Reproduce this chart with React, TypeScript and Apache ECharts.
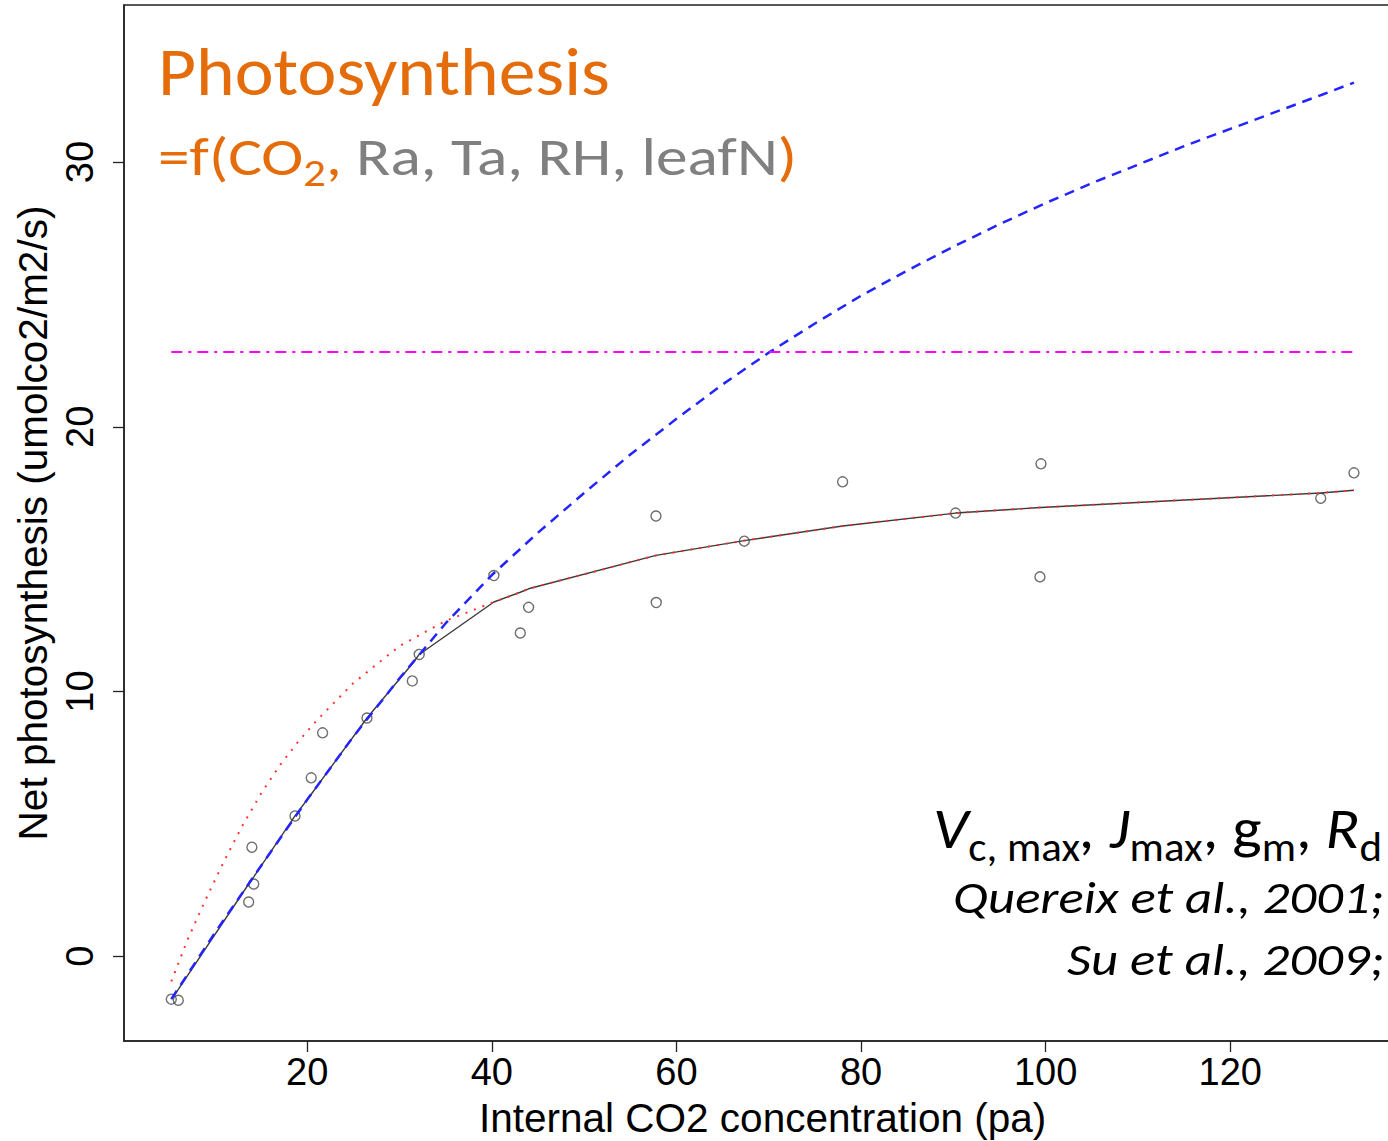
import React, { useEffect, useRef } from "react";
import * as echarts from "echarts";

// ---------- data ----------
const xTicks = [20, 40, 60, 80, 100, 120];
const yTicks = [0, 10, 20, 30];

// observed points (Ci, A)
const obsCi = [5.27, 6.03, 13.65, 14.0, 14.2, 18.67, 20.43, 21.66, 26.47, 31.38, 32.13, 40.22, 43.08, 43.98, 57.78, 57.81, 67.35, 78.0, 90.24, 99.38, 99.49, 129.8, 133.4];
const obsA = [-1.62, -1.66, 2.05, 4.12, 2.73, 5.3, 6.74, 8.44, 9.0, 10.4, 11.4, 14.38, 12.21, 13.18, 16.63, 13.36, 15.68, 17.92, 16.74, 14.33, 18.6, 17.3, 18.26];

// fitted net photosynthesis (black solid), at observed Ci
const fitA = [-1.62, -1.25, 2.73, 2.9, 3.0, 5.3, 6.12, 6.71, 9.0, 11.05, 11.4, 13.38, 13.75, 13.88, 15.14, 15.15, 15.7, 16.25, 16.74, 16.95, 16.95, 17.5, 17.6];

// electron-transport limited curve (red dotted)
const ajCi = [5.27, 7, 9, 11, 13, 15, 17, 19, 21, 25, 30, 35, 40.22, 43.08, 43.98, 57.78, 67.35, 78, 90.24, 99.38, 129.8, 133.4];
const ajA = [-0.95, 0.6, 2.15, 3.6, 4.95, 6.15, 7.2, 8.1, 8.9, 10.32, 11.72, 12.67, 13.38, 13.75, 13.88, 15.14, 15.7, 16.25, 16.74, 16.95, 17.5, 17.6];

// Rubisco limited curve (blue dashed)
const acCi = [5.27, 10, 15, 20, 25, 30, 35, 40, 45, 50, 55, 60, 65, 70, 75, 80, 85, 90, 95, 100, 105, 110, 115, 120, 125, 130, 133.4];
const acA = [-1.62, 0.89, 3.42, 5.92, 8.3, 10.5, 12.58, 14.4, 16.0, 17.5, 18.95, 20.3, 21.6, 22.8, 23.9, 24.95, 25.9, 26.8, 27.65, 28.45, 29.2, 29.9, 30.6, 31.25, 31.9, 32.55, 33.0];

// TPU limit (magenta dot-dash)
const tpCi = [5.27, 133.4];
const tpA = [22.82, 22.82];

const FONT_AXIS = '"Liberation Sans", Arial, Helvetica, sans-serif';
const FONT_NOTE = 'Carlito, Lato, "Open Sans", sans-serif';
const ORANGE = "#E46C0A";
const GREY = "#808080";

type Piece = { t: string; size: number; italic?: boolean; color: string; dy?: number };

function layoutLine(
  ctx: CanvasRenderingContext2D,
  pieces: Piece[],
  anchorX: number,
  align: "left" | "right",
  baseline: number,
  targetWidth?: number
) {
  const fontOf = (p: Piece) => `${p.italic ? "italic " : ""}${p.size}px ${FONT_NOTE}`;
  const ms = pieces.map((p) => {
    ctx.font = fontOf(p);
    const r = ctx.measureText(p.t);
    const asc = (r as any).fontBoundingBoxAscent ?? p.size * 0.8;
    const desc = (r as any).fontBoundingBoxDescent ?? p.size * 0.2;
    return { w: r.width, asc, desc };
  });
  const natural = ms.reduce((a, m) => a + m.w, 0);
  const s = targetWidth ? targetWidth / natural : 1;
  let x = align === "left" ? anchorX : anchorX - natural * s;
  return pieces.map((p, i) => {
    const m = ms[i];
    const el = {
      type: "text",
      x,
      y: baseline + (p.dy || 0) - (m.asc - m.desc) / 2,
      scaleX: s,
      silent: true,
      z: 10,
      style: {
        text: p.t,
        fontSize: p.size,
        fontFamily: FONT_NOTE,
        fontStyle: p.italic ? "italic" : "normal",
        fill: p.color,
        align: "left",
        verticalAlign: "middle",
      },
    };
    x += m.w * s;
    return el;
  });
}

const pairs = (xs: number[], ys: number[]) => xs.map((x, i) => [x, ys[i]]);

export default function App() {
  const ref = useRef<HTMLDivElement>(null);
  useEffect(() => {
    if (!ref.current) return;
    const chart = echarts.init(ref.current, undefined, { renderer: "svg" });
    const ctx = document.createElement("canvas").getContext("2d") as CanvasRenderingContext2D;

    const graphics: any[] = [
      ...layoutLine(ctx, [{ t: "Photosynthesis", size: 67, color: ORANGE }], 158, "left", 95, 452),
      ...layoutLine(
        ctx,
        [
          { t: "=f(CO", size: 54, color: ORANGE },
          { t: "2", size: 38, color: ORANGE, dy: 11 },
          { t: ",", size: 54, color: ORANGE },
          { t: " Ra, Ta, RH, leafN", size: 54, color: GREY },
          { t: ")", size: 54, color: ORANGE },
        ],
        158,
        "left",
        175,
        639
      ),
      ...layoutLine(
        ctx,
        [
          { t: "V", size: 58, italic: true, color: "#000" },
          { t: "c, max", size: 40, color: "#000", dy: 13 },
          { t: ",", size: 58, italic: true, color: "#000" },
          { t: " ", size: 58, color: "#000" },
          { t: "J", size: 58, italic: true, color: "#000" },
          { t: "max", size: 40, color: "#000", dy: 13 },
          { t: ", g", size: 58, color: "#000" },
          { t: "m", size: 40, color: "#000", dy: 13 },
          { t: ", ", size: 58, color: "#000" },
          { t: "R", size: 58, italic: true, color: "#000" },
          { t: "d", size: 40, color: "#000", dy: 13 },
        ],
        1382,
        "right",
        848,
        449
      ),
      ...layoutLine(ctx, [{ t: "Quereix et al., 2001;", size: 45, italic: true, color: "#000" }], 1384, "right", 913, 431),
      ...layoutLine(ctx, [{ t: "Su et al., 2009;", size: 45, italic: true, color: "#000" }], 1384, "right", 975, 317),
    ];

    const axisLineStyle = { color: "#222", width: 1.5 };
    chart.setOption({
      animation: false,
      backgroundColor: "#fff",
      grid: {
        left: 124,
        top: 5,
        width: 1277.3,
        height: 1036,
        show: true,
        borderColor: "#222",
        borderWidth: 1.5,
        containLabel: false,
        outerBoundsMode: "none",
      },
      xAxis: {
        type: "value",
        min: 0.145,
        max: 138.53,
        axisLine: { show: true, onZero: false, lineStyle: axisLineStyle },
        axisTick: { show: true, customValues: xTicks, length: 11, lineStyle: { color: "#222", width: 1.3 } },
        axisLabel: { customValues: xTicks, fontSize: 38, fontFamily: FONT_AXIS, color: "#000", margin: 12 },
        splitLine: { show: false },
        name: "Internal CO2 concentration (pa)",
        nameLocation: "middle",
        nameGap: 56,
        nameTextStyle: { fontSize: 40.5, fontFamily: FONT_AXIS, color: "#000" },
      },
      yAxis: {
        type: "value",
        min: -3.2,
        max: 35.93,
        axisLine: { show: true, onZero: false, lineStyle: axisLineStyle },
        axisTick: { show: true, customValues: yTicks, length: 11, lineStyle: { color: "#222", width: 1.3 } },
        axisLabel: { customValues: yTicks, fontSize: 38, fontFamily: FONT_AXIS, color: "#000", margin: 25, rotate: 90 },
        splitLine: { show: false },
        name: "Net photosynthesis (umolco2/m2/s)",
        nameLocation: "middle",
        nameGap: 67,
        nameTextStyle: { fontSize: 40.5, fontFamily: FONT_AXIS, color: "#000" },
      },
      graphic: graphics,
      series: [
        {
          type: "scatter",
          data: pairs(obsCi, obsA),
          symbol: "circle",
          symbolSize: 10,
          itemStyle: { color: "rgba(0,0,0,0)", borderColor: "#4a4a4a", borderWidth: 1.4 },
          silent: true,
          z: 2,
        },
        {
          type: "line",
          data: pairs(obsCi, fitA),
          showSymbol: false,
          symbol: "none",
          lineStyle: { color: "#3a3a3a", width: 1.4 },
          silent: true,
          z: 3,
        },
        {
          type: "line",
          data: pairs(ajCi, ajA),
          showSymbol: false,
          symbol: "none",
          lineStyle: { color: "#ff3030", width: 2, type: [2, 7] },
          silent: true,
          z: 4,
        },
        {
          type: "line",
          data: pairs(acCi, acA),
          showSymbol: false,
          symbol: "none",
          lineStyle: { color: "#2424ff", width: 2.5, type: [10, 7] },
          silent: true,
          z: 5,
        },
        {
          type: "line",
          data: pairs(tpCi, tpA),
          showSymbol: false,
          symbol: "none",
          lineStyle: { color: "#ff00ff", width: 2, type: [11, 6, 3, 6] },
          silent: true,
          z: 5,
        },
      ],
    });
    return () => chart.dispose();
  }, []);
  return (
    <div
      ref={ref}
      style={{ position: "fixed", left: 0, top: 0, width: 1388, height: 1141, background: "#fff" }}
    />
  );
}
